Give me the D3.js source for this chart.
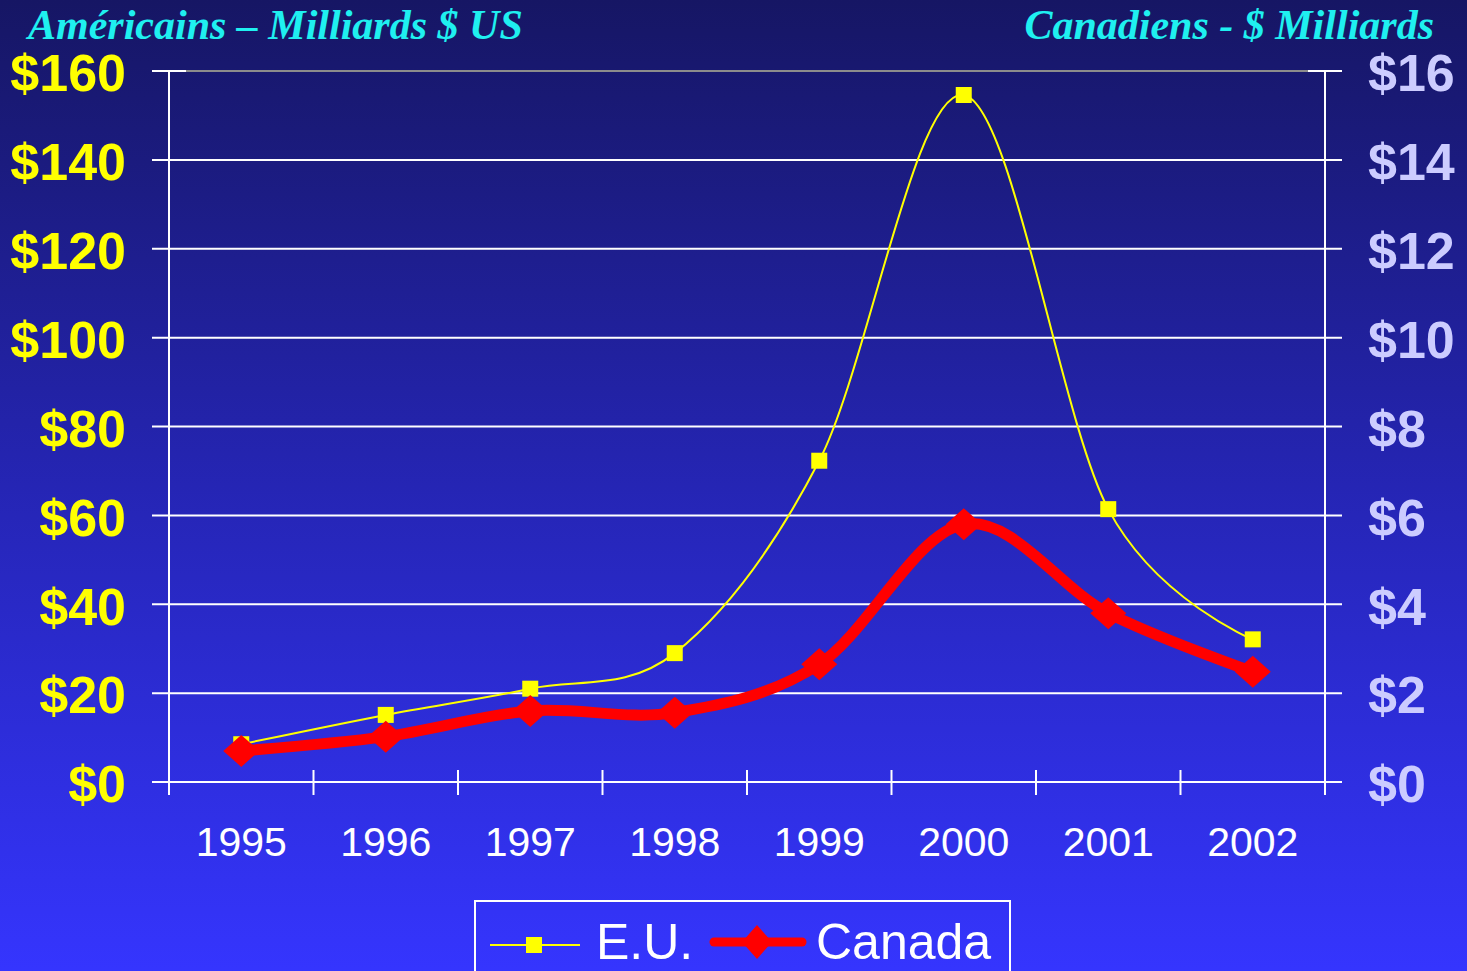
<!DOCTYPE html>
<html>
<head>
<meta charset="utf-8">
<script src="https://cdn.jsdelivr.net/npm/d3@7"></script>
<style>
  html, body { margin: 0; padding: 0; background: #2020a0; overflow: hidden; }
  svg { display: block; }
  text { font-family: Arial, "Liberation Sans", sans-serif; }
</style>
</head>
<body>
<div id="chart"></div>
<script>
// data
const years = ["1995", "1996", "1997", "1998", "1999", "2000", "2001", "2002"];
const euValues = [8.5, 15.1, 21, 29, 72.3, 154.6, 61.4, 32.1];      // milliards $ US
const canadaValues = [0.7, 1.02, 1.6, 1.56, 2.65, 5.8, 3.8, 2.48];  // milliards $ CA
const leftTicks = [0, 20, 40, 60, 80, 100, 120, 140, 160];
const rightTicks = [0, 2, 4, 6, 8, 10, 12, 14, 16];
const titleLeft = "Américains – Milliards $ US";
const titleRight = "Canadiens - $ Milliards";
const legendNames = ["E.U.", "Canada"];

const width = 1467, height = 971;
const plot = {left: 169, right: 1325, top: 71, bottom: 782};

const svg = d3.select("#chart").append("svg")
    .attr("width", width)
    .attr("height", height);

// background gradient
const defs = svg.append("defs");
const grad = defs.append("linearGradient")
    .attr("id", "bg")
    .attr("x1", 0).attr("y1", 0).attr("x2", 0).attr("y2", 1);
grad.append("stop").attr("offset", "0%").attr("stop-color", "#161664");
grad.append("stop").attr("offset", "50%").attr("stop-color", "#2525b4");
grad.append("stop").attr("offset", "100%").attr("stop-color", "#3535fe");
svg.append("rect")
    .attr("width", width).attr("height", height)
    .attr("fill", "url(#bg)");

const x = d3.scaleBand()
    .domain(years)
    .range([plot.left, plot.right]);

const yL = d3.scaleLinear().domain([0, 160]).range([plot.bottom, plot.top]);
const yR = d3.scaleLinear().domain([0, 16]).range([plot.bottom, plot.top]);

// gridlines
svg.append("g")
    .attr("class", "grid")
    .selectAll("line")
    .data(leftTicks)
    .enter().append("line")
    .attr("x1", 152).attr("x2", 1342)
    .attr("y1", d => yL(d)).attr("y2", d => yL(d))
    .attr("stroke", "#ffffff")
    .attr("stroke-width", 2);

// plot area top border is grey
svg.append("line")
    .attr("x1", 186).attr("x2", 1308)
    .attr("y1", yL(160)).attr("y2", yL(160))
    .attr("stroke", "#8c8c8c")
    .attr("stroke-width", 2);

// left axis
const axisL = svg.append("g")
    .attr("transform", "translate(" + plot.left + ",0)")
    .call(d3.axisLeft(yL).tickValues(leftTicks).tickSize(0).tickPadding(43)
        .tickFormat(d => "$" + d));
axisL.select(".domain").remove();
axisL.selectAll("text")
    .attr("dy", "0.38em")
    .attr("fill", "#ffff00")
    .style("font-size", "52px")
    .style("font-weight", "bold")
    .style("font-family", "Arial, 'Liberation Sans', sans-serif");

// right axis
const axisR = svg.append("g")
    .attr("transform", "translate(" + plot.right + ",0)")
    .call(d3.axisRight(yR).tickValues(rightTicks).tickSize(0).tickPadding(43)
        .tickFormat(d => "$" + d));
axisR.select(".domain").remove();
axisR.selectAll("text")
    .attr("dy", "0.38em")
    .attr("fill", "#ccccff")
    .style("font-size", "52px")
    .style("font-weight", "bold")
    .style("font-family", "Arial, 'Liberation Sans', sans-serif");

// vertical axis lines
svg.append("g")
    .selectAll("line")
    .data([plot.left, plot.right])
    .enter().append("line")
    .attr("x1", d => d).attr("x2", d => d)
    .attr("y1", plot.top).attr("y2", 795)
    .attr("stroke", "#ffffff")
    .attr("stroke-width", 2);

// category boundary ticks
svg.append("g")
    .selectAll("line")
    .data(years.slice(1))
    .enter().append("line")
    .attr("x1", d => x(d)).attr("x2", d => x(d))
    .attr("y1", 770).attr("y2", 795)
    .attr("stroke", "#ffffff")
    .attr("stroke-width", 2);

// bottom axis labels
const axisB = svg.append("g")
    .attr("transform", "translate(0," + plot.bottom + ")")
    .call(d3.axisBottom(x).tickSize(0).tickPadding(45));
axisB.select(".domain").remove();
axisB.selectAll("text")
    .attr("fill", "#ffffff")
    .style("font-size", "41px")
    .style("font-family", "Arial, 'Liberation Sans', sans-serif");

// titles
svg.append("text")
    .attr("x", 28).attr("y", 39)
    .attr("fill", "#1ff0f0")
    .style("font-family", "'Times New Roman', 'Liberation Serif', serif")
    .style("font-style", "italic")
    .style("font-weight", "bold")
    .style("font-size", "42px")
    .text(titleLeft);

svg.append("text")
    .attr("x", 1434).attr("y", 39)
    .attr("text-anchor", "end")
    .attr("fill", "#1ff0f0")
    .style("font-family", "'Times New Roman', 'Liberation Serif', serif")
    .style("font-style", "italic")
    .style("font-weight", "bold")
    .style("font-size", "42px")
    .text(titleRight);

const cx = d => x(d) + x.bandwidth() / 2;
const curve = d3.curveCatmullRom.alpha(0);

// E.U. series
const euLine = d3.line()
    .x((d, i) => cx(years[i]))
    .y(d => yL(d))
    .curve(curve);

svg.append("path")
    .datum(euValues)
    .attr("d", euLine)
    .attr("fill", "none")
    .attr("stroke", "#ffff00")
    .attr("stroke-width", 2);

svg.append("g")
    .selectAll("rect")
    .data(euValues)
    .enter().append("rect")
    .attr("x", (d, i) => cx(years[i]) - 8)
    .attr("y", d => yL(d) - 8)
    .attr("width", 16).attr("height", 16)
    .attr("fill", "#ffff00");

// Canada series
const caLine = d3.line()
    .x((d, i) => cx(years[i]))
    .y(d => yR(d))
    .curve(curve);

svg.append("path")
    .datum(canadaValues)
    .attr("d", caLine)
    .attr("fill", "none")
    .attr("stroke", "#ff0000")
    .attr("stroke-width", 11)
    .attr("stroke-linejoin", "round")
    .attr("stroke-linecap", "round");

const diamond = (px, py, w, h) =>
    "M" + px + "," + (py - h) + "L" + (px + w) + "," + py +
    "L" + px + "," + (py + h) + "L" + (px - w) + "," + py + "Z";

svg.append("g")
    .selectAll("path")
    .data(canadaValues)
    .enter().append("path")
    .attr("d", (d, i) => diamond(cx(years[i]), yR(d), 18, 16))
    .attr("fill", "#ff0000");

// legend
const legend = svg.append("g").attr("class", "legend");
legend.append("rect")
    .attr("x", 475).attr("y", 901)
    .attr("width", 535).attr("height", 100)
    .attr("fill", "none")
    .attr("stroke", "#ffffff")
    .attr("stroke-width", 2);

legend.append("line")
    .attr("x1", 490).attr("x2", 580)
    .attr("y1", 945).attr("y2", 945)
    .attr("stroke", "#ffff00").attr("stroke-width", 2);
legend.append("rect")
    .attr("x", 526).attr("y", 937)
    .attr("width", 16).attr("height", 16)
    .attr("fill", "#ffff00");
legend.append("text")
    .attr("x", 596).attr("y", 959)
    .attr("fill", "#ffffff")
    .style("font-size", "50px")
    .text(legendNames[0]);

legend.append("line")
    .attr("x1", 714).attr("x2", 802)
    .attr("y1", 942).attr("y2", 942)
    .attr("stroke", "#ff0000").attr("stroke-width", 9)
    .attr("stroke-linecap", "round");
legend.append("path")
    .attr("d", diamond(757, 942, 15, 17))
    .attr("fill", "#ff0000");
legend.append("text")
    .attr("x", 816).attr("y", 959)
    .attr("fill", "#ffffff")
    .style("font-size", "50px")
    .text(legendNames[1]);
</script>
</body>
</html>
